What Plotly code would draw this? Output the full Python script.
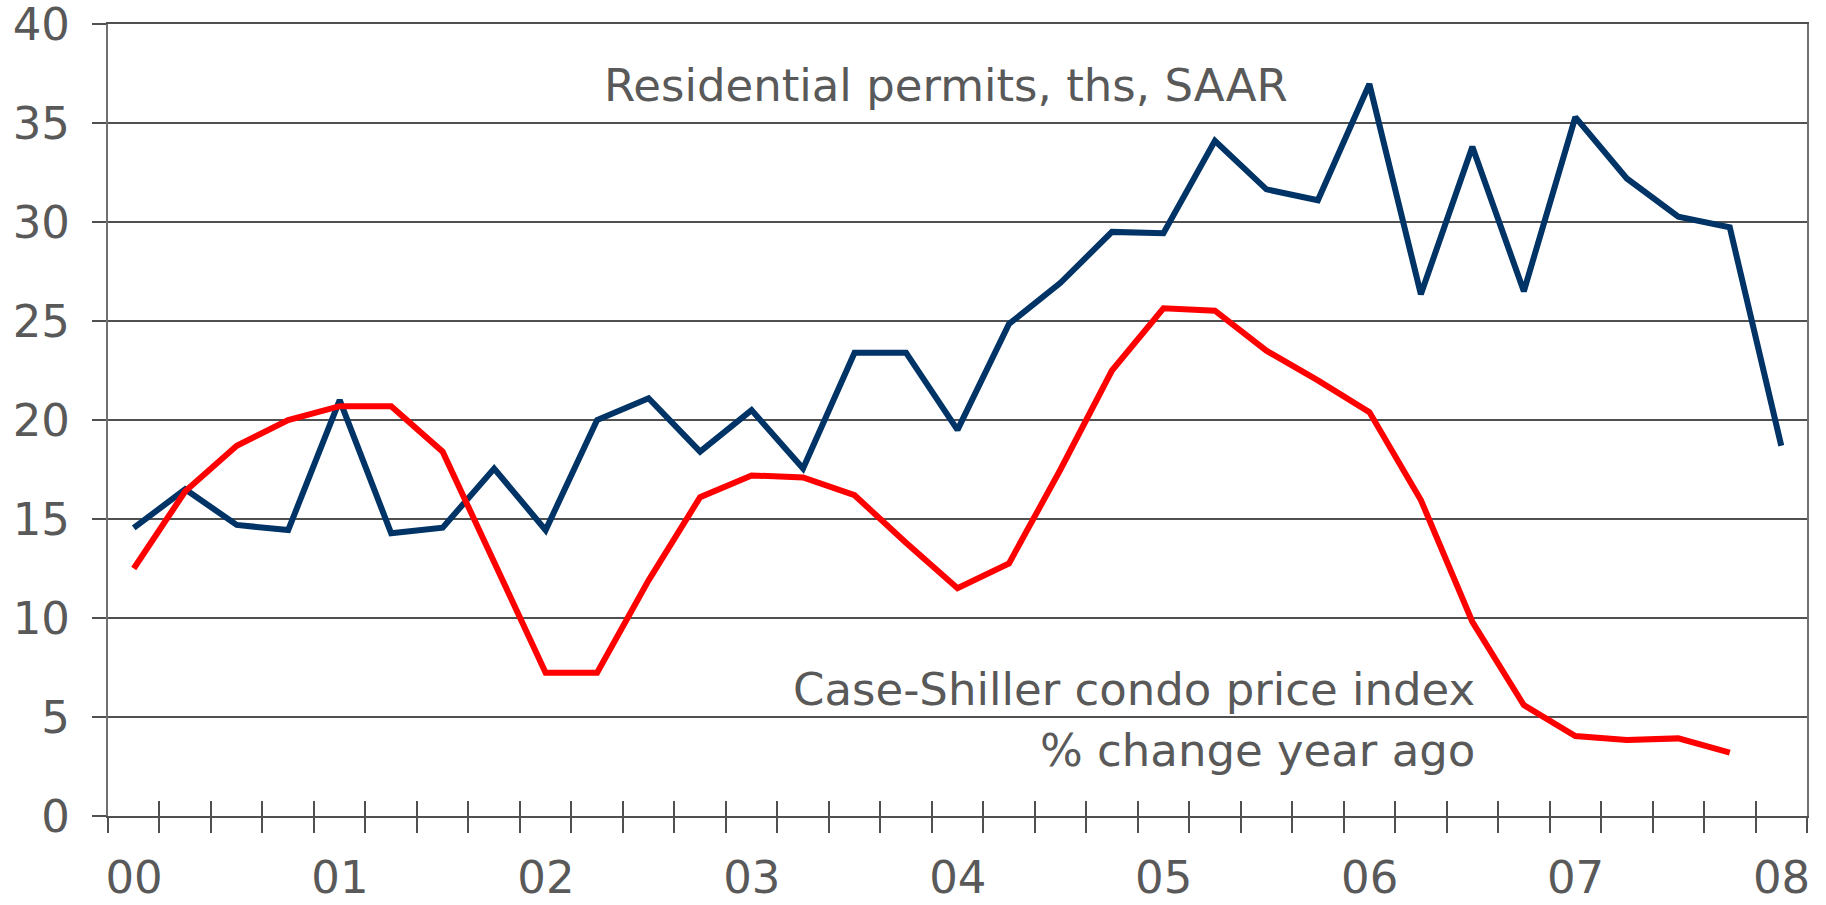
import plotly.graph_objects as go

# ---- data ----
quarters = [f"{y}Q{q}" for y in range(2000, 2008) for q in range(1, 5)] + ["2008Q1"]
year_labels = ["00", "01", "02", "03", "04", "05", "06", "07", "08"]

permits = [14.55, 16.5, 14.7, 14.44, 21.0, 14.28, 14.56, 17.55,
           14.44, 20.0, 21.1, 18.4, 20.5, 17.55, 23.4, 23.4,
           19.5, 24.85, 26.93, 29.5, 29.43, 34.1, 31.65, 31.1,
           36.97, 26.35, 33.8, 26.5, 35.3, 32.2, 30.27, 29.73,
           18.7]
case_shiller = [12.5, 16.4, 18.7, 20.0, 20.7, 20.7, 18.4, 12.9,
                7.24, 7.24, 11.9, 16.1, 17.2, 17.1, 16.2, 13.8,
                11.5, 12.76, 17.5, 22.5, 25.64, 25.52, 23.5, 22.0,
                20.4, 15.96, 9.81, 5.6, 4.04, 3.84, 3.92, 3.2]

n = len(quarters)
xpos = list(range(n))
boundaries = [k - 0.5 for k in range(n + 1)]
# label every 4th boundary (start of each year), shifted to the first quarter's centre
boundary_text = [year_labels[k // 4] if k % 4 == 0 and k // 4 < len(year_labels) else ""
                 for k in range(n + 1)]
xrange_ = [-0.5, n - 0.5]

FONT = "DejaVu Sans, Verdana, sans-serif"
TXT = "#595959"
GRID = "#505050"

W, H = 1826, 905
ML, MR, MT, MB = 108, 19, 24, 89
plot_w = W - ML - MR
half_cat_px = int(round(plot_w / n / 2))

fig = go.Figure()
fig.add_trace(go.Scatter(x=xpos[:len(permits)], y=permits, mode="lines",
                         line=dict(color="#003366", width=6), name="Residential permits"))
fig.add_trace(go.Scatter(x=xpos[:len(case_shiller)], y=case_shiller, mode="lines",
                         xaxis="x2", yaxis="y",
                         line=dict(color="#FF0000", width=6), name="Case-Shiller"))

fig.update_layout(
    width=W, height=H,
    margin=dict(l=ML, r=MR, t=MT, b=MB),
    paper_bgcolor="white", plot_bgcolor="white",
    showlegend=False,
    font=dict(family=FONT, color=TXT, size=45),
    xaxis=dict(range=xrange_, tickvals=boundaries, ticktext=boundary_text,
               ticks="outside", ticklen=15, tickwidth=2, tickcolor=GRID,
               showgrid=False, zeroline=False, automargin=False,
               showline=True, linecolor=GRID, linewidth=2, mirror=True,
               tickfont=dict(size=45, color=TXT), ticklabelstandoff=6,
               ticklabelshift=half_cat_px, ticklabeloverflow="allow"),
    xaxis2=dict(range=xrange_, overlaying="x", anchor="y", side="bottom",
                tickvals=boundaries, ticks="inside", ticklen=15, tickwidth=2,
                tickcolor=GRID, showticklabels=False, showgrid=False,
                zeroline=False, showline=False, automargin=False),
    yaxis=dict(range=[0, 40], tickvals=[0, 5, 10, 15, 20, 25, 30, 35, 40],
               ticks="outside", ticklen=14, automargin=False,
               tickwidth=2, tickcolor=GRID, showgrid=True, gridcolor=GRID,
               gridwidth=2, zeroline=False, showline=True, linecolor="#707070",
               linewidth=2, mirror=True, tickfont=dict(size=45, color=TXT),
               ticklabelstandoff=13, ticklabeloverflow="allow"),
)

def px_to_paper(px):
    return (px - ML) / plot_w

fig.add_annotation(x=px_to_paper(946), y=36.9, xref="paper", yref="y",
                   text="Residential permits, ths, SAAR", showarrow=False,
                   xanchor="center", yanchor="middle",
                   font=dict(size=45, color=TXT, family=FONT))
fig.add_annotation(x=px_to_paper(1477), y=6.4, xref="paper", yref="y",
                   text="Case-Shiller condo price index", showarrow=False,
                   xanchor="right", yanchor="middle",
                   font=dict(size=45, color=TXT, family=FONT))
fig.add_annotation(x=px_to_paper(1477), y=3.3, xref="paper", yref="y",
                   text="% change year ago", showarrow=False,
                   xanchor="right", yanchor="middle",
                   font=dict(size=45, color=TXT, family=FONT))

fig.write_html("out.html", config={"displayModeBar": False},
               post_script="document.body.style.margin='0';document.body.style.overflow='hidden';")
